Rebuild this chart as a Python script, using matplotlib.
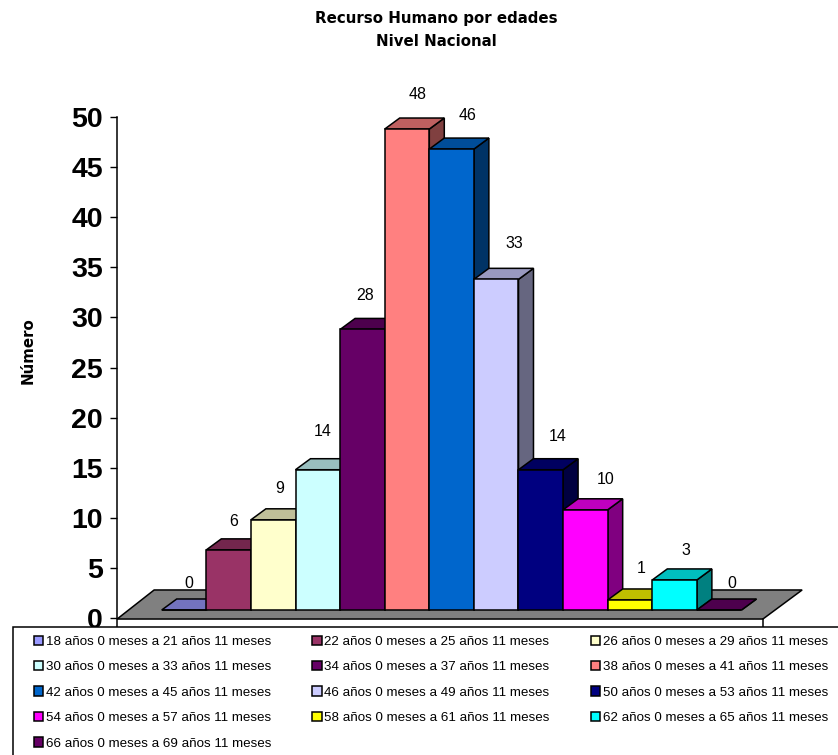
import matplotlib
matplotlib.use("Agg")
import matplotlib.pyplot as plt
from matplotlib.patches import Polygon, Rectangle

plt.rcParams['font.family'] = ['Liberation Sans', 'DejaVu Sans']

age_ranges = [
    "18 años 0 meses a 21 años 11 meses",
    "22 años 0 meses a 25 años 11 meses",
    "26 años 0 meses a 29 años 11 meses",
    "30 años 0 meses a 33 años 11 meses",
    "34 años 0 meses a 37 años 11 meses",
    "38 años 0 meses a 41 años 11 meses",
    "42 años 0 meses a 45 años 11 meses",
    "46 años 0 meses a 49 años 11 meses",
    "50 años 0 meses a 53 años 11 meses",
    "54 años 0 meses a 57 años 11 meses",
    "58 años 0 meses a 61 años 11 meses",
    "62 años 0 meses a 65 años 11 meses",
    "66 años 0 meses a 69 años 11 meses",
]
counts = [0, 6, 9, 14, 28, 48, 46, 33, 14, 10, 1, 3, 0]
colors = ["#9999FF", "#993366", "#FFFFCC", "#CCFFFF", "#660066", "#FF8080", "#0066CC",
          "#CCCCFF", "#000080", "#FF00FF", "#FFFF00", "#00FFFF", "#660066"]

# label offsets from the front top-centre of each bar, in pixels
label_dx = [5, 5, 6, 5, 3, 11, 16, 18, 17, 20, 11, 11, 13]
label_dy = [27, 28, 31, 38, 34, 35, 34, 36, 33, 30, 31, 29, 27]

# depth of the fake 3d boxes
DX = 0.336
DY = 1.1


def shade(color, k):
    r, g, b = matplotlib.colors.to_rgb(color)
    return (r * k, g * k, b * k)


fig = plt.figure(figsize=(8.38, 7.55), dpi=100)

# full figure axes: one x unit is a bar, one y unit is one person
ax = fig.add_axes([0, 0, 1, 1])
ax.set_xlim(-4.126, 14.664)
ax.set_ylim(-14.47, 60.88)
ax.axis("off")

# grey floor
ax.add_patch(Polygon([(-1.5, -0.9), (12.98, -0.9), (13.86, 2.0), (-0.67, 2.0)],
                     facecolor="#808080", edgecolor="black", lw=1.1))

# boxes, left to right so each one covers the side of the previous
for i, (v, c) in enumerate(zip(counts, colors)):
    l, r = i - 0.5, i + 0.5
    ax.add_patch(Polygon([(r, 0), (r + DX, DY), (r + DX, v + DY), (r, v)],
                         facecolor=shade(c, 0.5), edgecolor="black", lw=1.1))
    ax.add_patch(Polygon([(l, v), (l + DX, v + DY), (r + DX, v + DY), (r, v)],
                         facecolor=shade(c, 0.75), edgecolor="black", lw=1.1))
    ax.bar(i, v, width=1, color=c, edgecolor="black", lw=1.1)
    ax.annotate(str(v), xy=(i, v), xytext=(label_dx[i], label_dy[i]),
                textcoords="offset pixels", ha="center", va="center", fontsize=11.5)

# short lines from the floor corners down to the legend box
ax.plot([-1.5, -1.5], [-0.9, -1.7], color="black", lw=1.1)
ax.plot([12.98, 12.98], [-0.9, -1.7], color="black", lw=1.1)

# value axis
axis = fig.add_axes([117 / 838, 137 / 755, 0.001, 501 / 755])
axis.patch.set_alpha(0)
axis.set_ylim(0, 50)
axis.set_xticks([])
axis.set_yticks(range(0, 51, 5))
axis.tick_params(axis="y", length=5, width=1, pad=5, labelsize=20.5)
for lab in axis.get_yticklabels():
    lab.set_fontweight("bold")
for s in ["top", "right", "bottom"]:
    axis.spines[s].set_visible(False)
axis.spines["left"].set_linewidth(1.1)

# titles
fig.text(436 / 838, 1 - 19 / 755, "Recurso Humano por edades", ha="center", va="center",
         fontsize=10.8, fontweight="bold", family="DejaVu Sans")
fig.text(436 / 838, 1 - 42 / 755, "Nivel Nacional", ha="center", va="center",
         fontsize=10.8, fontweight="bold", family="DejaVu Sans")
fig.text(28 / 838, 1 - 351 / 755, "Número", rotation=90, ha="center", va="center",
         fontsize=10.8, fontweight="bold", family="DejaVu Sans")

# legend box runs off the right and bottom edges
fig.add_artist(Rectangle((13 / 838, -0.01), 0.99, 1 - 627 / 755 + 0.01, transform=fig.transFigure,
                         facecolor="white", edgecolor="black", lw=1.1))
handles = [Rectangle((0, 0), 1, 1, facecolor=c, edgecolor="black", lw=1.1) for c in colors]
order = [0, 3, 6, 9, 12, 1, 4, 7, 10, 2, 5, 8, 11]
leg = fig.legend([handles[i] for i in order], [age_ranges[i] for i in order], ncol=3,
                 loc="upper left", bbox_to_anchor=(23 / 838, 1 - 625 / 755), frameon=False,
                 fontsize=9.6, handlelength=0.7, handleheight=0.7, handletextpad=0.2,
                 columnspacing=3.1, labelspacing=0.98, borderpad=0.3)
leg.set_zorder(5)

fig.savefig("out.png", dpi=100)
